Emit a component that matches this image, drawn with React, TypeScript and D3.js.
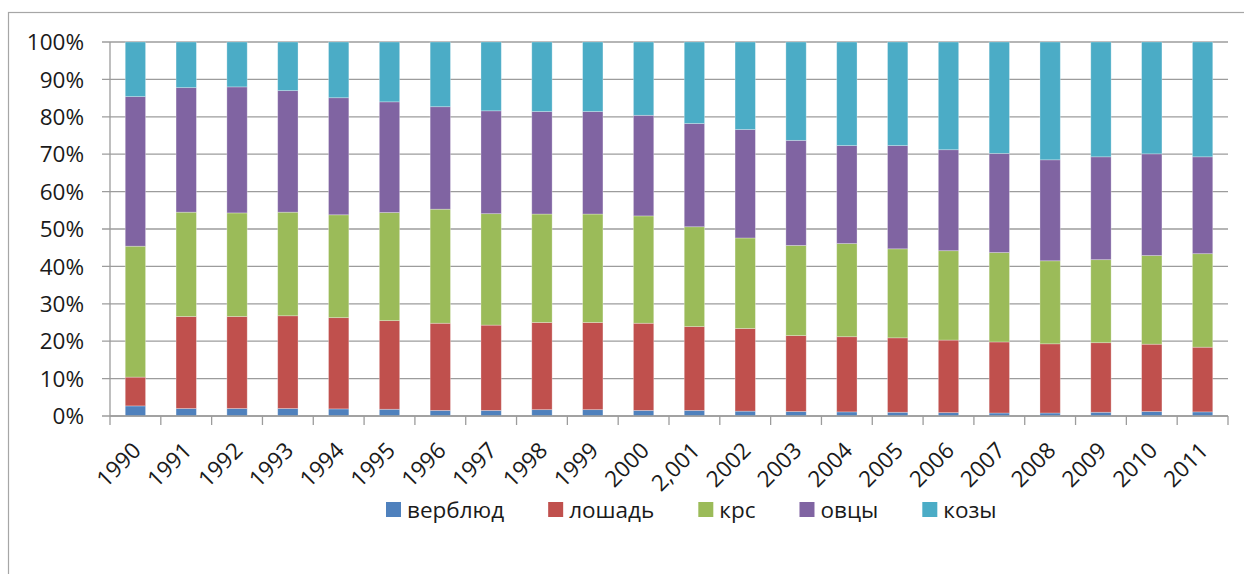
import * as d3 from "d3";
import React, { useEffect, useRef } from "react";

// years on the x axis (the 2001 label really reads "2,001" in the source)
const years = [
  "1990", "1991", "1992", "1993", "1994", "1995", "1996", "1997", "1998", "1999", "2000",
  "2,001", "2002", "2003", "2004", "2005", "2006", "2007", "2008", "2009", "2010", "2011",
];

// shares in percent
const camel = [2.7, 2.0, 2.0, 2.0, 1.9, 1.8, 1.5, 1.5, 1.7, 1.7, 1.5, 1.5, 1.3, 1.2, 1.1, 1.0, 0.9, 0.8, 0.8, 1.0, 1.2, 1.1];
const horse = [7.7, 24.6, 24.6, 24.8, 24.4, 23.7, 23.3, 22.8, 23.3, 23.3, 23.3, 22.4, 22.1, 20.3, 20.1, 19.9, 19.4, 19.0, 18.5, 18.6, 18.0, 17.3];
const cattle = [35.0, 27.9, 27.7, 27.7, 27.5, 28.9, 30.5, 29.8, 29.0, 29.0, 28.7, 26.7, 24.2, 24.1, 24.9, 23.8, 23.9, 23.9, 22.2, 22.2, 23.7, 25.0];
const sheep = [40.0, 33.3, 33.7, 32.5, 31.3, 29.6, 27.4, 27.5, 27.4, 27.4, 26.9, 27.6, 29.0, 28.1, 26.2, 27.6, 27.0, 26.5, 27.0, 27.5, 27.2, 25.9];
const goats = [14.6, 12.2, 12.0, 13.0, 14.9, 16.0, 17.3, 18.4, 18.6, 18.6, 19.6, 21.8, 23.4, 26.3, 27.7, 27.7, 28.8, 29.8, 31.5, 30.7, 29.9, 30.7];

const seriesNames = ["верблюд", "лошадь", "крс", "овцы", "козы"];
const seriesValues = [camel, horse, cattle, sheep, goats];
const seriesColors = ["#4F81BD", "#C0504D", "#9BBB59", "#8064A2", "#4BACC6"];

const yTicks = [0, 0.1, 0.2, 0.3, 0.4, 0.5, 0.6, 0.7, 0.8, 0.9, 1];

const font = "'Open Sans', sans-serif";
const fontSize = 22.5;

export default function App() {
  const width = 1244;
  const height = 574;
  const svgRef = useRef<SVGSVGElement>(null);

  useEffect(() => {
    const svg = d3.select(svgRef.current);
    svg.selectAll("*").remove();

    const left = 110;
    const right = 1228;
    const top = 42;
    const bottom = 416;

    // rows for d3.stack
    const rows = years.map((year, i) => {
      const row: any = { year };
      seriesNames.forEach((name, s) => (row[name] = seriesValues[s][i]));
      return row;
    });
    const stacked = d3.stack().keys(seriesNames).offset(d3.stackOffsetExpand)(rows);

    const x = d3.scaleBand().domain(years).range([left, right]).paddingInner(0.6).paddingOuter(0.3);
    const y = d3.scaleLinear().domain([0, 1]).range([bottom, top]);

    // outer chart frame (right and bottom edges fall outside the picture)
    svg.append("rect")
      .attr("x", 8.5).attr("y", 12.5)
      .attr("width", 1400).attr("height", 700)
      .attr("fill", "white")
      .attr("stroke", "#a6a6a6")
      .attr("stroke-width", 1.2);

    // gridlines with left tick marks
    svg.append("g")
      .selectAll("line")
      .data(yTicks)
      .join("line")
      .attr("x1", left - 8).attr("x2", right)
      .attr("y1", (d) => y(d)).attr("y2", (d) => y(d))
      .attr("stroke", "#9c9c9c")
      .attr("stroke-width", 1.3);

    svg.append("g")
      .selectAll("text")
      .data(yTicks)
      .join("text")
      .attr("x", 84)
      .attr("y", (d) => y(d))
      .attr("dy", "0.36em")
      .attr("text-anchor", "end")
      .attr("font-family", font)
      .attr("font-size", fontSize)
      .attr("fill", "#1a1a1a")
      .text((d) => d3.format(".0%")(d));

    // bars
    svg.append("g")
      .selectAll("g")
      .data(stacked)
      .join("g")
      .attr("fill", (d, i) => seriesColors[i])
      .selectAll("rect")
      .data((d) => d)
      .join("rect")
      .attr("x", (d: any) => x(d.data.year)!)
      .attr("width", x.bandwidth())
      .attr("y", (d) => y(d[1]))
      .attr("height", (d) => y(d[0]) - y(d[1]))
      .attr("stroke", "rgba(255,255,255,0.35)")
      .attr("stroke-width", 0.8);

    // axes lines
    svg.append("line")
      .attr("x1", left).attr("x2", left)
      .attr("y1", top).attr("y2", bottom)
      .attr("stroke", "#9c9c9c").attr("stroke-width", 1.3);
    svg.append("line")
      .attr("x1", left).attr("x2", right)
      .attr("y1", bottom).attr("y2", bottom)
      .attr("stroke", "#9c9c9c").attr("stroke-width", 1.3);

    // x ticks at category boundaries
    const boundaries = d3.range(years.length + 1).map((i) => left + i * x.step());
    svg.append("g")
      .selectAll("line")
      .data(boundaries)
      .join("line")
      .attr("x1", (d) => d).attr("x2", (d) => d)
      .attr("y1", bottom).attr("y2", bottom + 9)
      .attr("stroke", "#9c9c9c")
      .attr("stroke-width", 1.3);

    // rotated year labels
    svg.append("g")
      .selectAll("text")
      .data(years)
      .join("text")
      .attr("transform", (d) => `translate(${x(d)! + x.bandwidth() / 2 + 7},${bottom + 36}) rotate(-45)`)
      .attr("text-anchor", "end")
      .attr("font-family", font)
      .attr("font-size", fontSize)
      .attr("fill", "#1a1a1a")
      .text((d) => d);

    // legend, laid out from measured text widths
    const legend = svg.append("g");
    let lx = 386;
    seriesNames.forEach((name, i) => {
      legend.append("rect")
        .attr("x", lx).attr("y", 502)
        .attr("width", 15).attr("height", 15)
        .attr("fill", seriesColors[i]);
      const label = legend.append("text")
        .attr("x", lx + 21).attr("y", 518)
        .attr("font-family", font)
        .attr("font-size", fontSize)
        .attr("fill", "#1a1a1a")
        .text(name);
      const w = (label.node() as SVGTextElement).getComputedTextLength();
      lx += 21 + w + 44;
    });
  }, []);

  return (
    <svg
      ref={svgRef}
      width={width}
      height={height}
      style={{ position: "absolute", left: 0, top: 0 }}
    ></svg>
  );
}
